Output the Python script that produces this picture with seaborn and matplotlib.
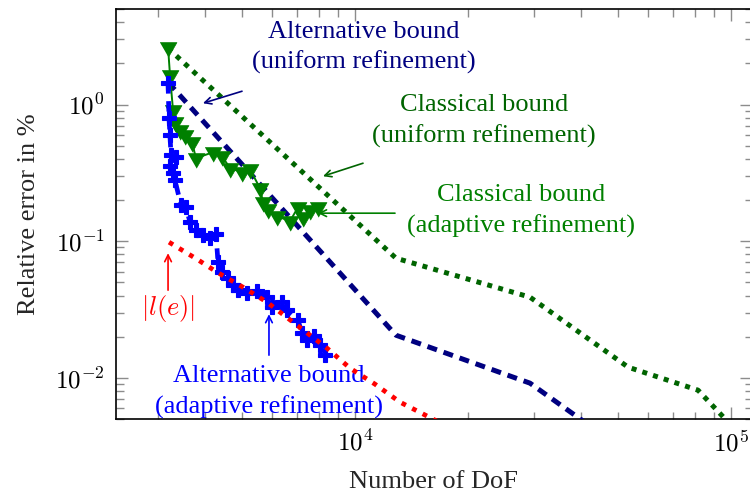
import math
import matplotlib
matplotlib.use("Agg")
import matplotlib.pyplot as plt
from matplotlib.ticker import LogLocator, FuncFormatter, NullFormatter
import pandas as pd
import seaborn as sns

# ---------------------------------------------------------------------------
# Data: relative error (%) versus number of degrees of freedom
# ---------------------------------------------------------------------------
# Classical bound, uniform refinement
cu_dof = [3183, 12850, 29200, 53230, 81700, 109000]
cu_err = [2.582, 0.0751, 0.03894, 0.01198, 0.008128, 0.003501]

# Alternative bound, uniform refinement
au_dof = [3183, 12850, 29200, 53230]
au_err = [1.456, 0.02052, 0.009146, 0.002813]

# Classical bound, adaptive refinement
ca_dof = [3183, 3221, 3281, 3321, 3424, 3531, 3686, 3776, 4191, 4430, 4652,
          5006, 5257, 5589, 5693, 5869, 6203, 6718, 7054, 7273, 7591, 7973]
ca_err = [2.626, 1.638, 0.9085, 0.7423, 0.6486, 0.5962, 0.5300, 0.4047,
          0.4477, 0.4185, 0.3420, 0.3197, 0.3363, 0.2442, 0.1929, 0.1714,
          0.1524, 0.1401, 0.1773, 0.1498, 0.1685, 0.1773]

# Alternative bound, adaptive refinement
aa_dof = [3183, 3202, 3221, 3241, 3341, 3221, 3281, 3321, 3445, 3552, 3641,
          3776, 3941, 4115, 4269, 4322, 4430, 4595, 4738, 4886, 5162, 5488,
          5834, 6016, 6395, 6593, 7054, 7228, 7453, 7780, 8071, 8322]
aa_err = [1.432, 0.7937, 0.5962, 0.4257, 0.4116, 0.3537, 0.3145, 0.2794,
          0.1834, 0.1773, 0.1377, 0.1203, 0.1106, 0.1051, 0.1125, 0.07022,
          0.05933, 0.05362, 0.04766, 0.04381, 0.04165, 0.04307, 0.03894,
          0.03290, 0.03579, 0.03128, 0.02643, 0.02123, 0.01887, 0.02018,
          0.01734, 0.01466]

# Error functional |l(e)|
le_dof = [3202, 3800, 4296, 5036, 5834, 6842, 8425, 9699, 11302, 13174,
          16322, 20221]
le_err = [0.09833, 0.07384, 0.05933, 0.04608, 0.03579, 0.02556, 0.01649,
          0.01177, 0.008994, 0.006643, 0.004905, 0.003501]

x_label = "Number of DoF"
y_label = "Relative error in %"

# ---------------------------------------------------------------------------
# Style
# ---------------------------------------------------------------------------
sns.set_theme(style="ticks")
plt.rcParams["font.family"] = ["Liberation Serif", "DejaVu Serif"]
plt.rcParams["mathtext.fontset"] = "cm"
plt.rcParams["axes.edgecolor"] = "black"
plt.rcParams["axes.linewidth"] = 1.2

NAVY = "#000080"
DKGREEN = "#006400"
GREEN = "#008000"
BLUE = "#0000ff"
RED = "#ff0000"
FS = 18
TFS = 19

fig = plt.figure(figsize=(7.5, 4.92), dpi=100)
ax = fig.add_axes([115.7 / 750, 73 / 492, (752 - 115.7) / 750, 410 / 492])
ax.set_xscale("log")
ax.set_yscale("log")


def draw(x, y, **kw):
    df = pd.DataFrame({"x": x, "y": y})
    sns.lineplot(data=df, x="x", y="y", ax=ax, estimator=None, sort=False,
                 legend=False, **kw)


# Classical bound, uniform refinement: thick dotted dark green
draw(cu_dof, cu_err, color=DKGREEN, linewidth=3.6,
     linestyle=(0, (1.0, 1.25)), zorder=3)
# Alternative bound, uniform refinement: thick dashed navy
draw(au_dof, au_err, color=NAVY, linewidth=3.6,
     linestyle=(0, (2.0, 1.4)), zorder=3)
# Classical bound, adaptive refinement: downward triangles
tri = [(-0.866, 0.5), (0.866, 0.5), (0.0, -1.0)]
draw(ca_dof, ca_err, color=GREEN, linewidth=1.4, marker=tri, markersize=14,
     markerfacecolor=GREEN, markeredgecolor=GREEN, markeredgewidth=0.5,
     zorder=4)
# Alternative bound, adaptive refinement: dashed with plus marks
draw(aa_dof, aa_err, color=BLUE, linewidth=3.4,
     linestyle=(0, (2.2, 1.6)), marker="P", markersize=9.5,
     markerfacecolor=BLUE, markeredgecolor=BLUE, markeredgewidth=0.8,
     zorder=5)
# |l(e)|: dotted red
draw(le_dof, le_err, color=RED, linewidth=3.4,
     linestyle=(0, (1.0, 1.5)), zorder=6)

ax.set_xlim(2310, 113700)
ax.set_ylim(5e-3, 5)

# Ticks: inward on all four sides, labels as powers of ten
fmt = FuncFormatter(lambda v, p: r"$10^{%d}$" % round(math.log10(v)))
ax.xaxis.set_major_locator(LogLocator(base=10))
ax.yaxis.set_major_locator(LogLocator(base=10))
ax.xaxis.set_minor_locator(LogLocator(base=10, subs=range(2, 10)))
ax.yaxis.set_minor_locator(LogLocator(base=10, subs=range(2, 10)))
ax.xaxis.set_major_formatter(fmt)
ax.yaxis.set_major_formatter(fmt)
ax.xaxis.set_minor_formatter(NullFormatter())
ax.yaxis.set_minor_formatter(NullFormatter())
ax.tick_params(which="both", direction="in", top=True, right=True,
               color="#8c8c8c", width=1.0, labelsize=FS, labelcolor="black")
ax.tick_params(which="major", length=8.6, pad=8)
ax.tick_params(which="minor", length=5.4)

ax.set_xlabel(x_label, fontsize=TFS, labelpad=11)
ax.set_ylabel(y_label, fontsize=TFS, labelpad=11)

arrow = dict(arrowstyle="->", lw=1.2, shrinkA=0, shrinkB=0)
LS = 1.45

# Annotations
ax.text(10566, 2.604, "Alternative bound\n(uniform refinement)", color=NAVY,
        fontsize=TFS, ha="center", va="center", linespacing=LS)
ax.annotate("", xy=(3941, 1.022), xytext=(5006, 1.251),
            arrowprops=dict(arrow, color=NAVY))

ax.text(22030, 0.755, "Classical bound\n(uniform refinement)", color=DKGREEN,
        fontsize=TFS, ha="center", va="center", linespacing=LS)
ax.annotate("", xy=(8220, 0.2989), xytext=(10502, 0.3720),
            arrowprops=dict(arrow, color=DKGREEN))

ax.text(27640, 0.1657, "Classical bound\n(adaptive refinement)", color=GREEN,
        fontsize=TFS, ha="center", va="center", linespacing=LS)
ax.annotate("", xy=(7973, 0.1603), xytext=(12775, 0.1603),
            arrowprops=dict(arrow, color=GREEN))

ax.text(3183, 0.03236, r"$|l(e)|$", color=RED, fontsize=TFS,
        ha="center", va="center")
ax.annotate("", xy=(3183, 0.08173), xytext=(3183, 0.04381),
            arrowprops=dict(arrow, color=RED))

ax.text(5905, 0.00786, "Alternative bound\n(adaptive refinement)", color=BLUE,
        fontsize=TFS, ha="center", va="center", linespacing=LS)
ax.annotate("", xy=(5905, 0.02924), xytext=(5905, 0.01466),
            arrowprops=dict(arrow, color=BLUE))

fig.savefig("out.png", dpi=100)
